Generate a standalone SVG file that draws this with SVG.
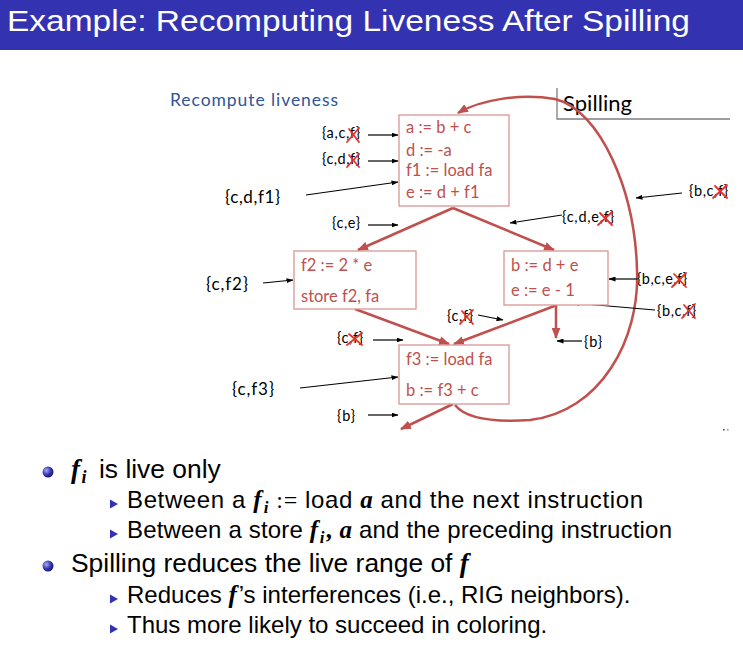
<svg xmlns="http://www.w3.org/2000/svg" width="743" height="645" viewBox="0 0 743 645">
<style>
.box{fill:#fff;stroke:#D99694;stroke-width:1.3}
.bt{font-family:Lato,"Liberation Sans",sans-serif;font-size:16.5px;fill:#C0504D}
.lb{font-family:Lato,"Liberation Sans",sans-serif;font-size:14.5px;fill:#000}
.lg{font-family:Lato,"Liberation Sans",sans-serif;font-size:17px;fill:#000}
.red{fill:none;stroke:#C0504D;stroke-width:2.5}
.blk{fill:none;stroke:#000;stroke-width:1.2}
.x{fill:none;stroke:#E8302A;stroke-width:1.8;stroke-linecap:round}
.t1{font-family:"Liberation Sans",Arial,sans-serif;font-size:26.4px;fill:#000}
.t2{font-family:"Liberation Sans",Arial,sans-serif;font-size:24px;fill:#000}
.mi{font-family:"Liberation Serif",serif;font-style:italic;font-weight:bold}
.mo{font-family:"Liberation Serif",serif}
.tri{fill:#3333B2}
</style>
<defs>
<marker id="ra" viewBox="0 0 10 8" refX="9" refY="4" markerWidth="11" markerHeight="9" markerUnits="userSpaceOnUse" orient="auto"><path d="M0,0 L10,4 L0,8 z" fill="#C0504D"/></marker>
<marker id="ba" viewBox="0 0 7 5" refX="6.5" refY="2.5" markerWidth="7" markerHeight="5" markerUnits="userSpaceOnUse" orient="auto"><path d="M0,0 L7,2.5 L0,5 z" fill="#000"/></marker>
<radialGradient id="ball" cx="0.35" cy="0.35" r="0.7"><stop offset="0" stop-color="#A8A8F0"/><stop offset="0.6" stop-color="#3333B2"/><stop offset="1" stop-color="#1A1A60"/></radialGradient>
</defs>
<rect x="0" y="0" width="743" height="645" fill="#fff"/>
<g id="title">
<rect x="0" y="0" width="743" height="50" fill="#3333B2"/>
<text x="7" y="31" font-family="'Liberation Sans',Arial,sans-serif" font-size="29" fill="#fff" textLength="683" lengthAdjust="spacingAndGlyphs">Example: Recomputing Liveness After Spilling</text>
</g>
<g id="heading">
<text x="170" y="106" font-family="Lato,'Liberation Sans',sans-serif" font-size="17.5" fill="#2F5597" textLength="168">Recompute liveness</text>
</g>
<g id="spilling">
<path d="M557,88 L557,119 L730,119" fill="none" stroke="#7F7F7F" stroke-width="1.3"/>
<text x="563" y="111" font-family="Lato,'Liberation Sans',sans-serif" font-size="22" fill="#000" textLength="69">Spilling</text>
</g>
<g id="connectors">
<path class="red" d="M453,208 L358,250" marker-end="url(#ra)"/>
<path class="red" d="M453,208 L554,250" marker-end="url(#ra)"/>
<path class="red" d="M355,309 L449,344" marker-end="url(#ra)"/>
<path class="red" d="M557,305 L454,344" marker-end="url(#ra)"/>
<path class="red" d="M556,305 L556,338" marker-end="url(#ra)"/>
<path class="red" d="M453,404 L401,429" marker-end="url(#ra)"/>
<path class="red" d="M455,405 Q470,424 530,420 C600,412 640,340 637,270 C635,190 600,110 555,99 C520,93 480,100 458,113" marker-end="url(#ra)"/>
<path class="blk" d="M368,135 L398,135" marker-end="url(#ba)"/>
<path class="blk" d="M368,161 L398,161" marker-end="url(#ba)"/>
<path class="blk" d="M306,195 L398,182" marker-end="url(#ba)"/>
<path class="blk" d="M368,225 L398,225" marker-end="url(#ba)"/>
<path class="blk" d="M562,215 L510,223" marker-end="url(#ba)"/>
<path class="blk" d="M682,193 L636,198" marker-end="url(#ba)"/>
<path class="blk" d="M263,283 L293,280" marker-end="url(#ba)"/>
<path class="blk" d="M637,279 L609,279" marker-end="url(#ba)"/>
<path class="blk" d="M655,310 L573,303" marker-end="url(#ba)"/>
<path class="blk" d="M478,315 L503,320" marker-end="url(#ba)"/>
<path class="blk" d="M582,341 L557,341" marker-end="url(#ba)"/>
<path class="blk" d="M373,340 L403,340" marker-end="url(#ba)"/>
<path class="blk" d="M300,388 L398,377" marker-end="url(#ba)"/>
<path class="blk" d="M368,415 L398,415" marker-end="url(#ba)"/>
</g>
<g id="block1">
<rect class="box" x="399" y="115" width="110" height="91"/>
<text class="bt" x="406" y="133">a := b + c</text>
<text class="bt" x="406" y="156">d := -a</text>
<text class="bt" x="406" y="176">f1 := load fa</text>
<text class="bt" x="406" y="198">e := d + f1</text>
</g>
<g id="block2">
<rect class="box" x="294" y="251" width="122" height="58"/>
<text class="bt" x="301" y="271">f2 := 2 * e</text>
<text class="bt" x="301" y="302">store f2, fa</text>
</g>
<g id="block3">
<rect class="box" x="504" y="251" width="104" height="54"/>
<text class="bt" x="511" y="271">b := d + e</text>
<text class="bt" x="511" y="296">e := e - 1</text>
</g>
<g id="block4">
<rect class="box" x="399" y="345" width="110" height="59"/>
<text class="bt" x="406" y="365">f3 := load fa</text>
<text class="bt" x="406" y="396">b := f3 + c</text>
</g>
<g id="labels">
<text class="lb" x="322" y="138" textLength="38">{a,c,f}</text>
<text class="lb" x="322" y="164" textLength="38">{c,d,f}</text>
<text class="lg" x="225" y="203" textLength="55">{c,d,f1}</text>
<text class="lb" x="332" y="228" textLength="28">{c,e}</text>
<text class="lb" x="562" y="222" textLength="52">{c,d,e,f}</text>
<text class="lb" x="689" y="196" textLength="39">{b,c,f}</text>
<text class="lg" x="206" y="290" textLength="42">{c,f2}</text>
<text class="lb" x="637" y="284" textLength="50">{b,c,e,f}</text>
<text class="lb" x="657" y="316" textLength="39">{b,c,f}</text>
<text class="lb" x="447" y="321" textLength="26">{c,f}</text>
<text class="lb" x="584" y="347" textLength="18">{b}</text>
<text class="lb" x="337" y="343" textLength="26">{c,f}</text>
<text class="lg" x="232" y="395" textLength="42">{c,f3}</text>
<text class="lb" x="337" y="421" textLength="18">{b}</text>
</g>
<g id="crosses">
<path class="x" d="M347,142 L359,128 M349,129 L359,142"/>
<path class="x" d="M347,167 L359,154 M349,155 L359,167"/>
<path class="x" d="M598,225 L612,212 M600,213 L612,225"/>
<path class="x" d="M713,198 L727,185 M715,186 L727,198"/>
<path class="x" d="M672,287 L686,273 M674,274 L686,287"/>
<path class="x" d="M682,318 L695,304 M684,305 L695,318"/>
<path class="x" d="M460,324 L473,310 M462,311 L473,324"/>
<path class="x" d="M347,345 L362,333 M349,334 L362,345"/>
</g>
<g id="dots">
<rect x="723" y="429" width="1.6" height="1.6" fill="#555"/>
<rect x="727" y="429" width="1.6" height="1.6" fill="#99A"/>
</g>
<g id="bullets">
<circle cx="48" cy="472" r="5.5" fill="url(#ball)"/>
<text class="t1" x="71" y="478"><tspan class="mi" font-size="27">f</tspan><tspan class="mi" font-size="18" dx="1.5" dy="5">i</tspan><tspan x="99" dy="-5">is live only</tspan></text>
<polygon class="tri" points="110,499.5 118,504 110,508.5"/>
<text class="t2" x="127" y="508" textLength="516">Between a <tspan class="mi" font-size="25">f</tspan><tspan class="mi" font-size="17" dx="1.5" dy="5">i</tspan><tspan dy="-5"> </tspan><tspan class="mo">:=</tspan> load <tspan class="mi" font-size="25">a</tspan> and the next instruction</text>
<polygon class="tri" points="110,529.5 118,534 110,538.5"/>
<text class="t2" x="127" y="538" textLength="545">Between a store <tspan class="mi" font-size="25">f</tspan><tspan class="mi" font-size="17" dx="1.5" dy="5">i</tspan><tspan class="mi" font-size="25" dx="2" dy="-5">, a</tspan> and the preceding instruction</text>
<circle cx="48" cy="566" r="5.5" fill="url(#ball)"/>
<text class="t1" x="71" y="572">Spilling reduces the live range of <tspan class="mi" font-size="27">f</tspan></text>
<polygon class="tri" points="110,594.5 118,599 110,603.5"/>
<text class="t2" x="127" y="603">Reduces <tspan class="mi" font-size="25">f</tspan><tspan dx="2">’s interferences (i.e., RIG neighbors).</tspan></text>
<polygon class="tri" points="110,624.5 118,629 110,633.5"/>
<text class="t2" x="127" y="633">Thus more likely to succeed in coloring.</text>
</g>
</svg>
